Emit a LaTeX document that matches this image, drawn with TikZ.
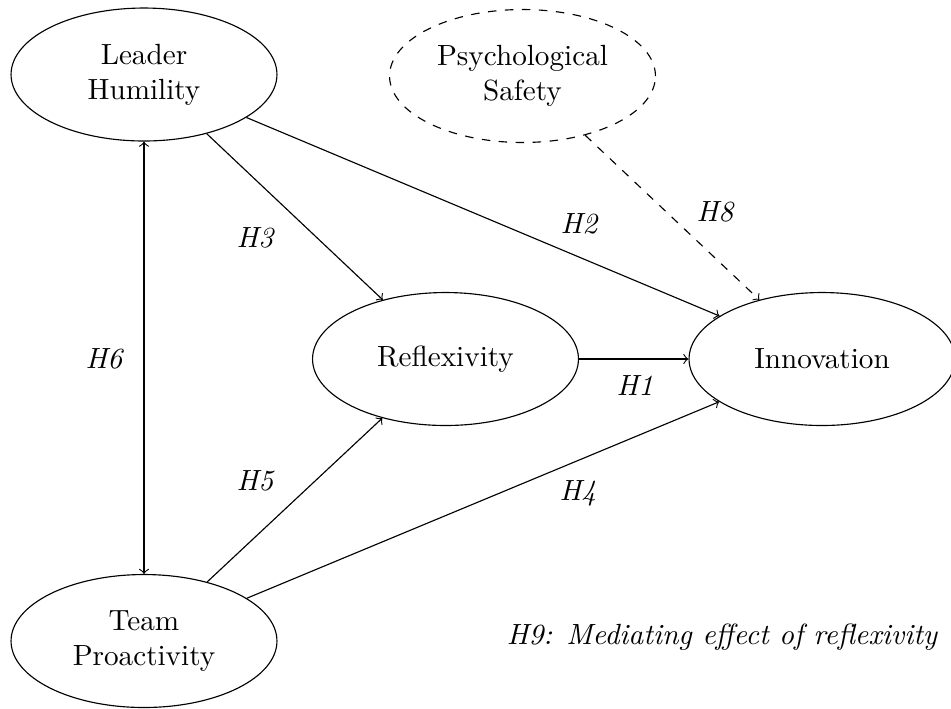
\documentclass[tikz,border=0pt]{standalone}
\usepackage{fontspec}
\setmainfont{Latin Modern Roman}
\usetikzlibrary{shapes.geometric}

\newcommand{\labelsize}{\fontsize{10.3}{12.4}\selectfont}

\tikzset{
  construct/.style={ellipse, draw, align=center, inner sep=0pt,
    minimum width=93.8pt, minimum height=46.9pt, font=\labelsize},
  latent/.style={construct, dashed},
  path/.style={draw, ->},
  hyp/.style={font=\labelsize\itshape, inner sep=0pt}
}

\begin{document}
\begin{tikzpicture}[x=0.35273pt, y=-0.35273pt]
  \useasboundingbox (0,0) rectangle (951,708);

  % constructs
  \node[construct] (lh)  at (144,74.5)  {Leader\\Humility};
  \node[latent]    (ps)  at (522.5,76)  {Psychological\\Safety};
  \node[construct] (ref) at (445.5,359) {Reflexivity};
  \node[construct] (inn) at (822,359)   {Innovation};
  \node[construct] (tp)  at (144,641)   {Team\\Proactivity};

  % hypothesised paths
  \draw[path] (ref) -- (inn);
  \draw[path] (lh) -- (inn);
  \draw[path] (lh) -- (ref);
  \draw[path] (tp) -- (ref);
  \draw[path] (tp) -- (inn);
  \draw[path, dashed] (ps) -- (inn);
  \draw[<->] (lh) -- (tp);

  % hypothesis labels
  \node[hyp] (h1) at (635,386) {H1};
  \node[hyp] (h2) at (579,224) {H2};
  \node[hyp] (h3) at (255,238) {H3};
  \node[hyp] (h4) at (578,493) {H4};
  \node[hyp] (h5) at (255,481) {H5};
  \node[hyp] (h6) at (104,359) {H6};
  \node[hyp] (h8) at (715,212) {H8};
  \node[hyp] (h9) at (722,637) {H9: Mediating effect of reflexivity};
\end{tikzpicture}
\end{document}
